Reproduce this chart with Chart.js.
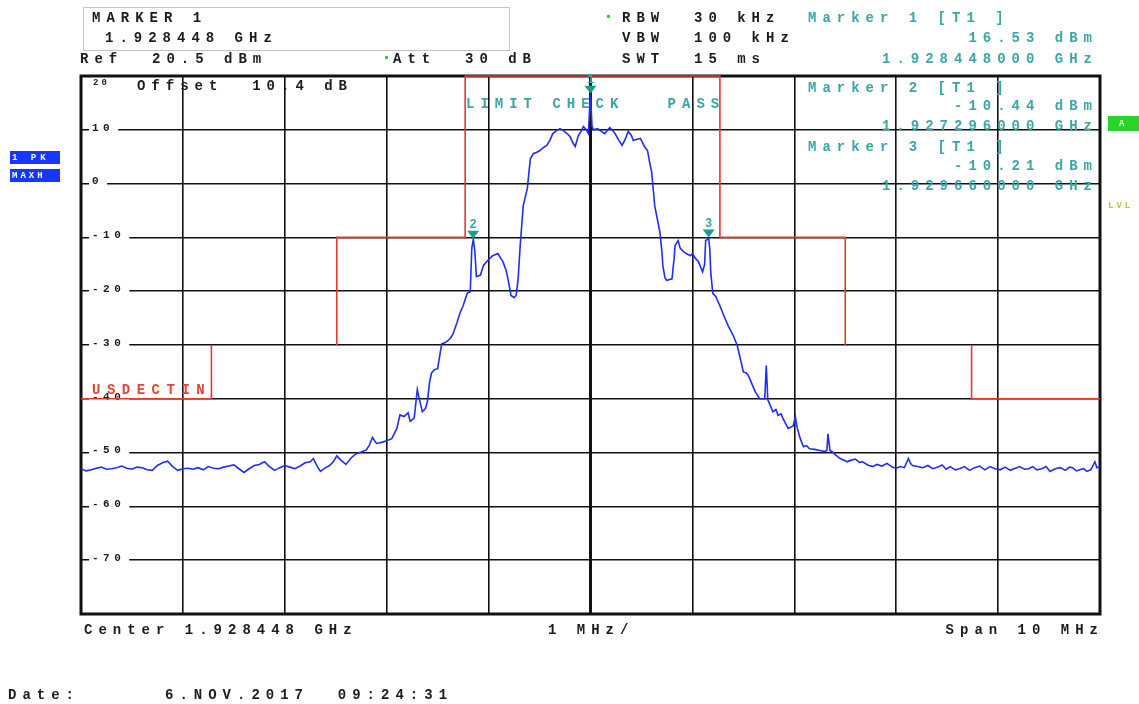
<!DOCTYPE html>
<html>
<head>
<meta charset="utf-8">
<script src="https://cdn.jsdelivr.net/npm/chart.js@4.4.1/dist/chart.umd.min.js"></script>
<style>
  html, body { margin: 0; padding: 0; background: #fff; }
  canvas { display: block; }
</style>
</head>
<body>
<canvas id="spec" width="1139" height="704"></canvas>
<script>
// frequency axis: offset from centre 1.928448 GHz, in MHz
const gridMHz = [-5, -4, -3, -2, -1, 0, 1, 2, 3, 4, 5];
const levelTicks = [10, 0, -10, -20, -30, -40, -50, -60, -70];

// trace 1 (max hold)
const traceMHz = [
  -5.00, -4.95, -4.90, -4.85, -4.80, -4.75, -4.70, -4.65, -4.60, -4.55,
  -4.50, -4.45, -4.40, -4.35, -4.30, -4.25, -4.20, -4.15, -4.10, -4.05,
  -4.00, -3.95, -3.90, -3.85, -3.80, -3.75, -3.70, -3.65, -3.60, -3.55,
  -3.50, -3.45, -3.40, -3.35, -3.30, -3.25, -3.20, -3.15, -3.10, -3.05,
  -3.00, -2.95, -2.90, -2.85, -2.80, -2.75, -2.72, -2.68, -2.65, -2.60,
  -2.56, -2.52, -2.49, -2.45, -2.40, -2.35, -2.30, -2.25, -2.20, -2.17,
  -2.14, -2.10, -2.05, -2.00, -1.95, -1.90, -1.87, -1.83, -1.79, -1.77,
  -1.73, -1.70, -1.68, -1.65, -1.62, -1.60, -1.58, -1.56, -1.53, -1.50,
  -1.48, -1.46, -1.43, -1.40, -1.37, -1.35, -1.31, -1.28, -1.25, -1.21,
  -1.18, -1.165, -1.15, -1.135, -1.12, -1.08, -1.05, -1.01, -0.96, -0.91,
  -0.86, -0.83, -0.81, -0.78, -0.75, -0.73, -0.71, -0.69, -0.66, -0.62,
  -0.59, -0.56, -0.53, -0.50, -0.47, -0.43, -0.40, -0.37, -0.33, -0.30,
  -0.27, -0.23, -0.20, -0.17, -0.15, -0.12, -0.09, -0.07, -0.04, -0.02,
  -0.01, 0.00, 0.015, 0.03, 0.07, 0.10, 0.14, 0.17, 0.19, 0.22,
  0.24, 0.28, 0.31, 0.34, 0.37, 0.40, 0.42, 0.45, 0.49, 0.51,
  0.53, 0.56, 0.58, 0.60, 0.63, 0.66, 0.68, 0.70, 0.71, 0.73,
  0.75, 0.78, 0.80, 0.82, 0.83, 0.86, 0.88, 0.91, 0.94, 0.98,
  1.00, 1.03, 1.06, 1.08, 1.10, 1.12, 1.13, 1.16, 1.17, 1.18,
  1.20, 1.23, 1.27, 1.31, 1.35, 1.40, 1.44, 1.47, 1.50, 1.53,
  1.55, 1.59, 1.62, 1.66, 1.71, 1.725, 1.74, 1.77, 1.79, 1.82,
  1.84, 1.87, 1.89, 1.92, 1.94, 1.99, 2.01, 2.03, 2.06, 2.09,
  2.12, 2.15, 2.20, 2.25, 2.30, 2.32, 2.33, 2.35, 2.37, 2.41,
  2.45, 2.50, 2.52, 2.56, 2.60, 2.64, 2.67, 2.72, 2.77, 2.81,
  2.86, 2.91, 2.96, 3.00, 3.04, 3.08, 3.12, 3.14, 3.16, 3.21,
  3.26, 3.31, 3.36, 3.41, 3.45, 3.49, 3.53, 3.58, 3.62, 3.67,
  3.72, 3.77, 3.82, 3.87, 3.92, 3.97, 4.02, 4.07, 4.12, 4.17,
  4.21, 4.26, 4.30, 4.34, 4.38, 4.43, 4.47, 4.51, 4.56, 4.61,
  4.66, 4.70, 4.73, 4.77, 4.80, 4.84, 4.87, 4.91, 4.95, 4.97,
  5.00
];
const traceDbm = [
  -53.0, -53.4, -53.2, -52.9, -52.7, -53.1, -53.0, -52.8, -52.5, -52.9,
  -53.1, -52.7, -52.8, -53.2, -53.3, -52.4, -51.9, -51.6, -52.6, -53.3,
  -53.0, -52.9, -53.1, -52.8, -53.2, -52.6, -52.9, -53.0, -52.7, -52.5,
  -52.3, -53.0, -53.7, -53.0, -52.4, -52.2, -51.7, -52.6, -53.3, -52.8,
  -52.4, -52.7, -53.0, -52.5, -51.9, -51.7, -51.1, -52.6, -53.5, -52.8,
  -52.4, -51.6, -50.6, -51.4, -52.2, -51.0, -50.2, -49.9, -49.5, -48.6,
  -47.2, -48.3, -48.1, -47.8, -47.4, -45.5, -43.0, -43.3, -42.6, -44.2,
  -43.6, -38.3, -40.0, -42.4, -41.8, -40.5, -37.0, -35.2, -34.6, -34.4,
  -32.0, -29.8, -29.6, -29.2, -28.6, -28.0, -25.8, -24.0, -22.7, -20.4,
  -20.1, -12.0, -10.4, -12.5, -17.3, -17.0, -15.2, -14.3, -13.4, -13.0,
  -14.5, -16.0, -17.7, -20.8, -21.2, -20.8, -17.7, -11.5, -4.1, -0.9,
  4.6, 5.6, 5.8, 6.1, 6.6, 7.1, 8.0, 9.3, 9.9, 10.2,
  9.9, 9.3, 8.7, 7.5, 6.9, 8.9, 9.8, 10.6, 10.0, 9.3,
  13.4, 16.5, 10.6, 10.0, 10.2, 9.8, 9.3, 10.0, 10.4, 9.8,
  9.3, 8.0, 7.1, 8.2, 9.7, 9.0, 8.0, 8.2, 8.4, 7.6,
  6.9, 6.1, 4.0, 2.2, -4.1, -7.0, -8.9, -12.5, -15.2, -17.5,
  -18.0, -17.8, -17.7, -14.0, -11.5, -10.6, -12.0, -12.6, -13.0, -13.4,
  -13.0, -13.9, -14.5, -15.5, -16.4, -15.0, -10.6, -10.2, -12.0, -16.4,
  -20.4, -21.0, -22.7, -24.6, -26.4, -28.2, -30.1, -32.5, -35.0, -35.2,
  -35.7, -37.5, -38.8, -40.0, -40.0, -33.8, -40.2, -41.5, -42.4, -42.0,
  -43.1, -42.8, -43.7, -44.8, -45.5, -45.0, -43.3, -45.5, -47.5, -48.9,
  -48.7, -49.3, -49.4, -49.6, -49.8, -49.6, -46.5, -49.6, -49.8, -50.5,
  -51.1, -51.5, -51.7, -51.4, -51.2, -51.8, -51.7, -52.3, -52.6, -52.2,
  -52.5, -52.0, -52.7, -52.9, -52.6, -52.8, -51.1, -52.0, -52.4, -52.6,
  -52.8, -52.4, -53.0, -52.7, -52.3, -53.1, -52.6, -53.2, -53.0, -52.6,
  -53.3, -52.8, -52.5, -53.2, -52.6, -53.0, -53.2, -52.7, -53.3, -52.9,
  -52.6, -53.1, -53.0, -52.6, -53.2, -53.0, -52.6, -53.5, -53.0, -52.8,
  -53.3, -52.7, -52.8, -53.4, -53.2, -53.0, -53.5, -53.2, -51.7, -52.8,
  -52.6
];

// spectrum emission mask (null = break in the line)
const limitMHz = [-5, -3.72, -3.72, -3.1, -2.49, -2.49, -1.23, -1.23, 1.27, 1.27, 2.50, 2.50, 3.1, 3.74, 3.74, 5];
const limitDbm = [-40, -40, -30, null, -30, -10, -10, 20, 20, -10, -10, -30, null, -30, -40, -40];

const markerNames = ['1', '2', '3'];
const markerMHz = [0, -1.152, 1.16];
const markerDbm = [16.53, -10.44, -10.21];

const TEAL = '#3aa7a3';
const INK = '#1c1c1c';
const FONT = '"Liberation Mono", "DejaVu Sans Mono", monospace';

Chart.defaults.font.family = FONT;

function put(ctx, s, x, y, o) {
    o = o || {};
    const sp = o.sp ?? 6;
    ctx.save();
    ctx.font = 'bold ' + (o.size || 14) + 'px ' + FONT;
    ctx.letterSpacing = sp + 'px';
    ctx.fillStyle = o.color || INK;
    ctx.textAlign = o.align || 'left';
    ctx.textBaseline = 'middle';
    ctx.fillText(s, o.align === 'right' ? x + sp : x, y);
    ctx.restore();
}

const spacingPlugin = {
    id: 'spacing',
    beforeLayout(chart) { chart.ctx.letterSpacing = '4.5px'; },
    beforeDraw(chart) { chart.ctx.letterSpacing = '4.5px'; }
};

const screenPlugin = {
    id: 'screen',
    beforeDatasetsDraw(chart) {
        const ctx = chart.ctx;
        const a = chart.chartArea;

        // frame
        ctx.save();
        ctx.strokeStyle = '#111';
        ctx.lineWidth = 3;
        ctx.strokeRect(a.left, a.top, a.right - a.left, a.bottom - a.top);
        // marker box
        ctx.strokeStyle = '#c4c4c4';
        ctx.lineWidth = 1;
        ctx.strokeRect(83.5, 7.5, 426, 43);
        ctx.restore();

        put(ctx, 'MARKER 1', 92, 18);
        put(ctx, '1.928448 GHz', 105, 38);
        put(ctx, 'Ref  20.5 dBm', 80, 59);
        put(ctx, 'Att  30 dB', 393, 59);
        put(ctx, 'RBW  30 kHz', 622, 18);
        put(ctx, 'VBW  100 kHz', 622, 38);
        put(ctx, 'SWT  15 ms', 622, 59);

        ctx.save();
        ctx.fillStyle = '#2fcf4a';
        ctx.fillRect(385, 56, 3, 3);
        ctx.fillRect(607, 15, 3, 3);
        ctx.restore();

        const r = 1092;
        put(ctx, 'Marker 1 [T1 ]', 808, 18, { color: TEAL });
        put(ctx, '16.53 dBm', r, 38, { color: TEAL, align: 'right' });
        put(ctx, '1.928448000 GHz', r, 59, { color: TEAL, align: 'right' });
        put(ctx, 'Marker 2 [T1 ]', 808, 88, { color: TEAL });
        put(ctx, '-10.44 dBm', r, 106, { color: TEAL, align: 'right' });
        put(ctx, '1.927296000 GHz', r, 126, { color: TEAL, align: 'right' });
        put(ctx, 'Marker 3 [T1 ]', 808, 147, { color: TEAL });
        put(ctx, '-10.21 dBm', r, 166, { color: TEAL, align: 'right' });
        put(ctx, '1.929660000 GHz', r, 186, { color: TEAL, align: 'right' });

        put(ctx, '20', 93, 83, { size: 9, sp: 3 });
        put(ctx, 'Offset  10.4 dB', 137, 86);
        put(ctx, 'LIMIT CHECK   PASS', 466, 104, { color: TEAL });
        put(ctx, 'USDECTIN', 92, 390, { color: '#e0443a', sp: 6.5 });

        // side soft keys
        ctx.save();
        ctx.fillStyle = '#1637ff';
        ctx.fillRect(10, 151, 50, 13);
        ctx.fillRect(10, 169, 50, 13);
        ctx.fillStyle = '#2bd42b';
        ctx.fillRect(1108, 116, 31, 15);
        ctx.restore();
        put(ctx, '1 PK', 12, 158, { size: 9, color: '#fff', sp: 4 });
        put(ctx, 'MAXH', 12, 176, { size: 9, color: '#fff', sp: 3 });
        put(ctx, 'A', 1119, 124, { size: 9, color: '#e8ffe8', sp: 0 });
        put(ctx, 'LVL', 1108, 206, { size: 9, color: '#b4c83a', sp: 3 });

        put(ctx, 'Center 1.928448 GHz', 84, 630);
        put(ctx, '1 MHz/', 548, 630);
        put(ctx, 'Span 10 MHz', 1098, 630, { align: 'right' });
        put(ctx, 'Date:', 8, 695);
        put(ctx, '6.NOV.2017  09:24:31', 165, 695);
    },
    afterDatasetsDraw(chart) {
        const ctx = chart.ctx;
        const xs = chart.scales.x, ys = chart.scales.y;
        markerMHz.forEach((f, i) => {
            const px = xs.getPixelForValue(f);
            const py = ys.getPixelForValue(markerDbm[i]) - 1;
            ctx.save();
            ctx.fillStyle = '#1f9a92';
            ctx.beginPath();
            ctx.moveTo(px - 6, py - 8);
            ctx.lineTo(px + 6, py - 8);
            ctx.lineTo(px, py);
            ctx.closePath();
            ctx.fill();
            ctx.restore();
            put(ctx, markerNames[i], px, py - 14, { color: TEAL, size: 12, sp: 0, align: 'center' });
        });
    }
};

const tracePts = traceMHz.map((f, i) => ({ x: f, y: traceDbm[i] }));
const limitPts = limitMHz.map((f, i) => ({ x: f, y: limitDbm[i] }));

new Chart(document.getElementById('spec').getContext('2d'), {
    type: 'scatter',
    data: {
        datasets: [
            {
                label: 'Limit',
                data: limitPts,
                showLine: true,
                spanGaps: false,
                borderColor: '#e3392f',
                borderWidth: 1.6,
                pointRadius: 0,
                clip: false,
                order: 2
            },
            {
                label: 'Trace 1',
                data: tracePts,
                showLine: true,
                borderColor: '#1f2ef2',
                borderWidth: 1.6,
                pointRadius: 0,
                order: 1
            }
        ]
    },
    options: {
        responsive: false,
        animation: false,
        layout: { padding: { left: 59, top: 76, right: 39, bottom: 90 } },
        plugins: { legend: { display: false }, tooltip: { enabled: false } },
        scales: {
            x: {
                type: 'linear', min: -5, max: 5,
                afterBuildTicks: axis => { axis.ticks = gridMHz.map(v => ({ value: v })); },
                ticks: { display: false },
                grid: { color: '#111', lineWidth: c => (c.tick && c.tick.value === 0 ? 3 : 1.6), drawTicks: false },
                border: { display: false }
            },
            y: {
                type: 'linear', min: -80, max: 20,
                afterBuildTicks: axis => { axis.ticks = levelTicks.map(v => ({ value: v })); },
                ticks: {
                    mirror: true, padding: 11, labelOffset: -2,
                    color: INK,
                    font: { family: FONT, size: 11, weight: 'bold' },
                    showLabelBackdrop: true, backdropColor: '#fff',
                    backdropPadding: { left: 3, right: 4, top: 1, bottom: 1 },
                    callback: v => String(v)
                },
                grid: { color: '#111', lineWidth: 1.6, drawTicks: false },
                border: { display: false }
            }
        }
    },
    plugins: [spacingPlugin, screenPlugin]
});
</script>
</body>
</html>
